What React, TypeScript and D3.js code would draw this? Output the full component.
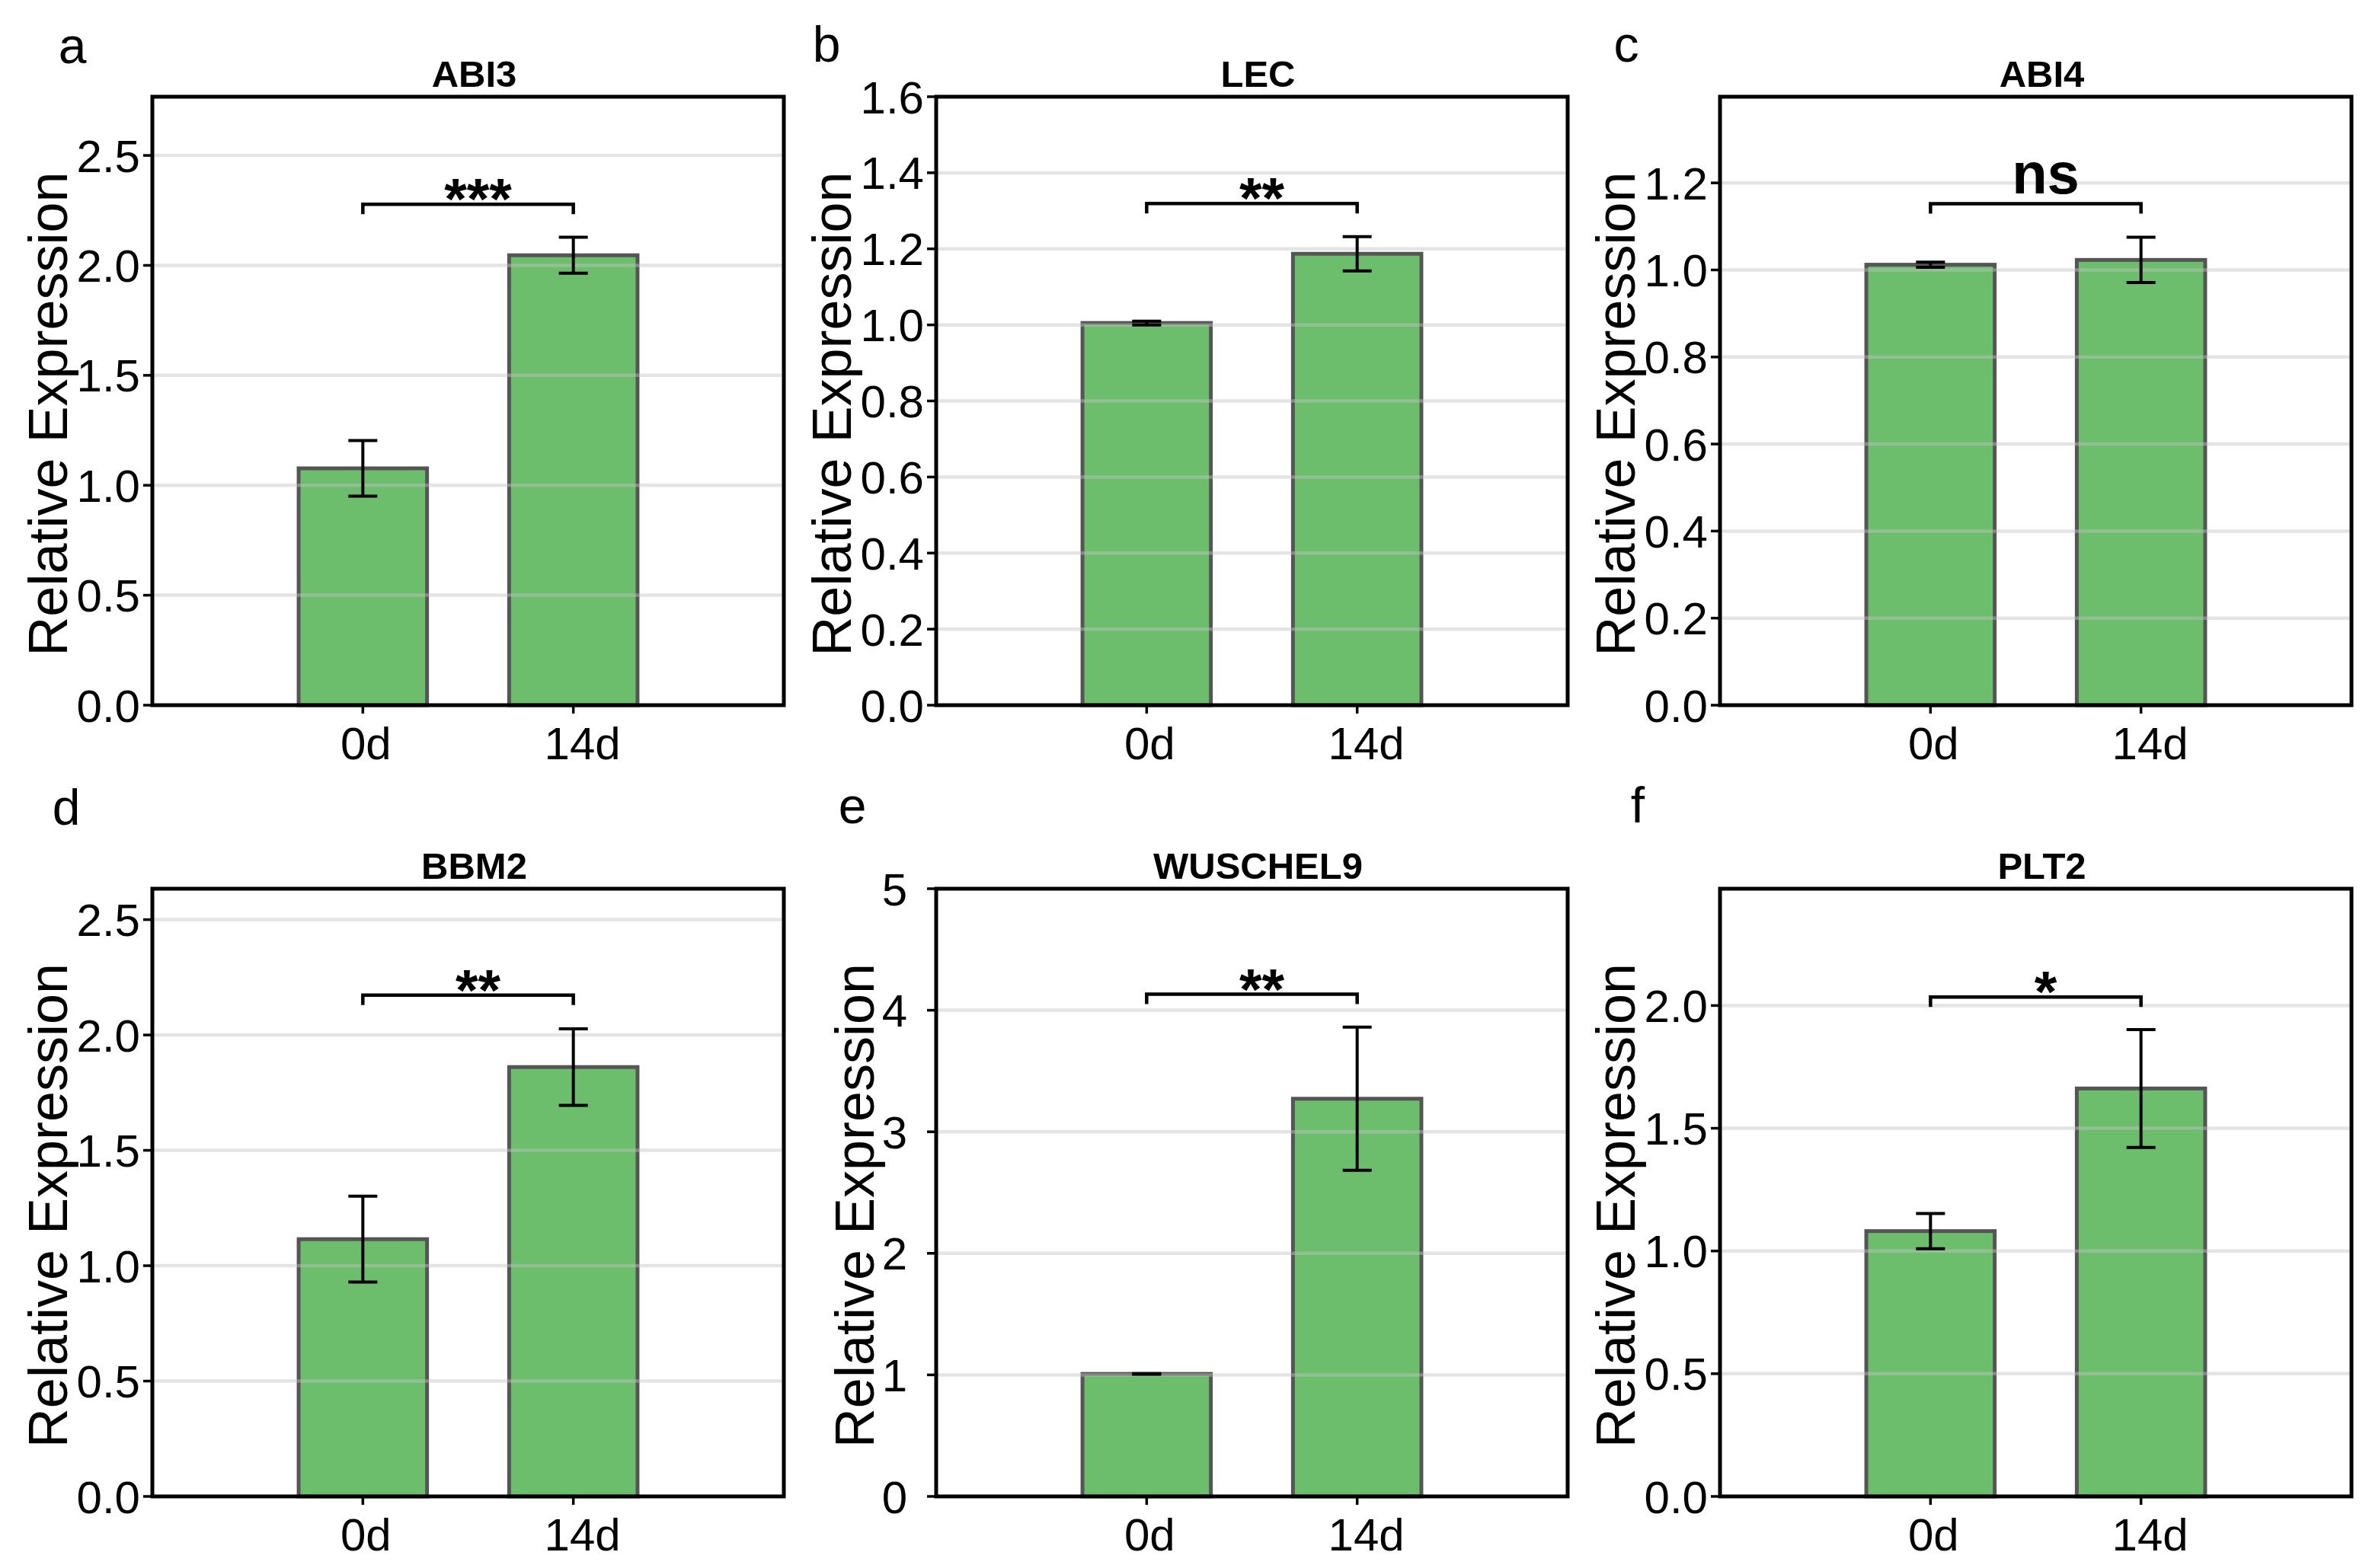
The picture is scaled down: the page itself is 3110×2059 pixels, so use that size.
import React from "react";
import * as d3 from "d3";

// ---------- data ----------
const panelLetters = ["a", "b", "c", "d", "e", "f"];
const genes = ["ABI3", "LEC", "ABI4", "BBM2", "WUSCHEL9", "PLT2"];
const categories = ["0d", "14d"];
const mean0d = [1.077, 1.005, 1.012, 1.115, 1.008, 1.081];
const mean14d = [2.046, 1.187, 1.023, 1.861, 3.272, 1.662];
const err0d = [0.126, 0.005, 0.006, 0.186, 0.003, 0.072];
const err14d = [0.082, 0.045, 0.052, 0.166, 0.589, 0.24];
const significance = ["***", "**", "ns", "**", "**", "*"];
const bracketLevel = [2.278, 1.319, 1.152, 2.173, 4.132, 2.035];
const yMax = [2.767, 1.6, 1.398, 2.634, 5.0, 2.476];
const yTicks = [
  [0, 0.5, 1.0, 1.5, 2.0, 2.5],
  [0, 0.2, 0.4, 0.6, 0.8, 1.0, 1.2, 1.4, 1.6],
  [0, 0.2, 0.4, 0.6, 0.8, 1.0, 1.2],
  [0, 0.5, 1.0, 1.5, 2.0, 2.5],
  [0, 1, 2, 3, 4, 5],
  [0, 0.5, 1.0, 1.5, 2.0],
];
const tickFormats = [".1f", ".1f", ".1f", ".1f", "d", ".1f"];

// ---------- style / layout ----------
const W = 3110;
const H = 2059;
const FONT = "'Liberation Sans', Arial, Helvetica, sans-serif";
const BOX_LEFTS = [200, 1229, 2258];
const BOX_W = 829;
const ROW_TOP = [127, 1167];
const ROW_BOTTOM = [926, 1965];
const LETTER_POS = [
  [95, 83],
  [1085, 81],
  [2135, 81],
  [87, 1083],
  [1119, 1081],
  [2150, 1080],
];
const BAR_FILL = "#6cbd6c";
const BAR_STROKE = "#555555";
const X_NUDGE = [4, 12];

function Panel({ i }: { i: number }) {
  const col = i % 3;
  const row = Math.floor(i / 3);
  const left = BOX_LEFTS[col];
  const right = left + BOX_W;
  const top = ROW_TOP[row];
  const bottom = ROW_BOTTOM[row];

  const x = d3.scaleLinear().domain([-1, 2]).range([left, right]);
  const y = d3.scaleLinear().domain([0, yMax[i]]).range([bottom, top]);
  const fmt = d3.format(tickFormats[i]);
  const means = [mean0d[i], mean14d[i]];
  const errs = [err0d[i], err14d[i]];
  const barW = 0.61;
  const capHalf = 19;
  const intLabels = tickFormats[i] === "d";
  const tickLabelRight = intLabels ? left - 38 : left - 16;
  const yLabelX = intLabels ? left - 82 : left - 112;
  const yLabelY = (top + bottom) / 2 + 17;
  const by = y(bracketLevel[i]);
  const x0 = x(0);
  const x1 = x(1);
  const sig = significance[i];
  const isNs = sig === "ns";

  return (
    <g>
      {/* bars */}
      {categories.map((c, k) => (
        <rect
          key={c}
          x={x(k - barW / 2)}
          y={y(means[k])}
          width={x(barW) - x(0)}
          height={y(0) - y(means[k])}
          fill={BAR_FILL}
          stroke={BAR_STROKE}
          strokeWidth={5}
        />
      ))}
      {/* gridlines */}
      {yTicks[i]
        .filter((t) => t > 0 && t < yMax[i] - 1e-6)
        .map((t) => (
          <line
            key={"g" + t}
            x1={left}
            x2={right}
            y1={y(t)}
            y2={y(t)}
            stroke="#c4c4c4"
            strokeOpacity={0.45}
            strokeWidth={4.5}
          />
        ))}
      {/* error bars */}
      {categories.map((c, k) => {
        const cx = x(k);
        const yt = y(means[k] + errs[k]);
        const yb = y(means[k] - errs[k]);
        return (
          <g key={"e" + c} stroke="#000" strokeWidth={4}>
            <line x1={cx} x2={cx} y1={yt} y2={yb} />
            <line x1={cx - capHalf} x2={cx + capHalf} y1={yt} y2={yt} />
            <line x1={cx - capHalf} x2={cx + capHalf} y1={yb} y2={yb} />
          </g>
        );
      })}
      {/* frame */}
      <rect
        x={left}
        y={top}
        width={BOX_W}
        height={bottom - top}
        fill="none"
        stroke="#000"
        strokeWidth={5}
      />
      {/* y ticks */}
      {yTicks[i].map((t) => (
        <g key={"t" + t}>
          <line x1={left - 12} x2={left} y1={y(t)} y2={y(t)} stroke="#000" strokeWidth={3.5} />
          <text
            x={tickLabelRight}
            y={y(t)}
            dy="0.36em"
            textAnchor="end"
            fontSize={60}
            fontFamily={FONT}
            fill="#000"
          >
            {fmt(t)}
          </text>
        </g>
      ))}
      {/* x ticks */}
      {categories.map((c, k) => (
        <g key={"x" + c}>
          <line x1={x(k)} x2={x(k)} y1={bottom} y2={bottom + 11} stroke="#000" strokeWidth={3.5} />
          <text
            x={x(k) + X_NUDGE[k]}
            y={bottom + 71}
            textAnchor="middle"
            fontSize={60}
            fontFamily={FONT}
            fill="#000"
          >
            {c}
          </text>
        </g>
      ))}
      {/* y label */}
      <text
        transform={`translate(${yLabelX},${yLabelY}) rotate(-90)`}
        textAnchor="middle"
        fontSize={72}
        fontFamily={FONT}
        fill="#000"
      >
        Relative Expression
      </text>
      {/* title */}
      <text
        x={(left + right) / 2 + 8}
        y={top - 13}
        textAnchor="middle"
        fontSize={49}
        fontWeight="bold"
        fontFamily={FONT}
        fill="#000"
      >
        {genes[i]}
      </text>
      {/* significance bracket */}
      <path
        d={`M${x0},${by + 13} L${x0},${by} L${x1},${by} L${x1},${by + 13}`}
        fill="none"
        stroke="#000"
        strokeWidth={4.5}
      />
      <text
        x={(x0 + x1) / 2 + 13}
        y={isNs ? by - 14 : by + 19}
        textAnchor="middle"
        fontSize={76}
        fontWeight="bold"
        fontFamily={FONT}
        fill="#000"
      >
        {sig}
      </text>
      {/* panel letter */}
      <text
        x={LETTER_POS[i][0]}
        y={LETTER_POS[i][1]}
        textAnchor="middle"
        fontSize={66}
        fontFamily={FONT}
        fill="#000"
      >
        {panelLetters[i]}
      </text>
    </g>
  );
}

export default function App() {
  return (
    <svg
      width={W}
      height={H}
      viewBox={`0 0 ${W} ${H}`}
      style={{ position: "absolute", left: 0, top: 0, background: "#fff" }}
    >
      <rect x={0} y={0} width={W} height={H} fill="#fff" />
      {genes.map((g, i) => (
        <Panel key={g} i={i} />
      ))}
    </svg>
  );
}
